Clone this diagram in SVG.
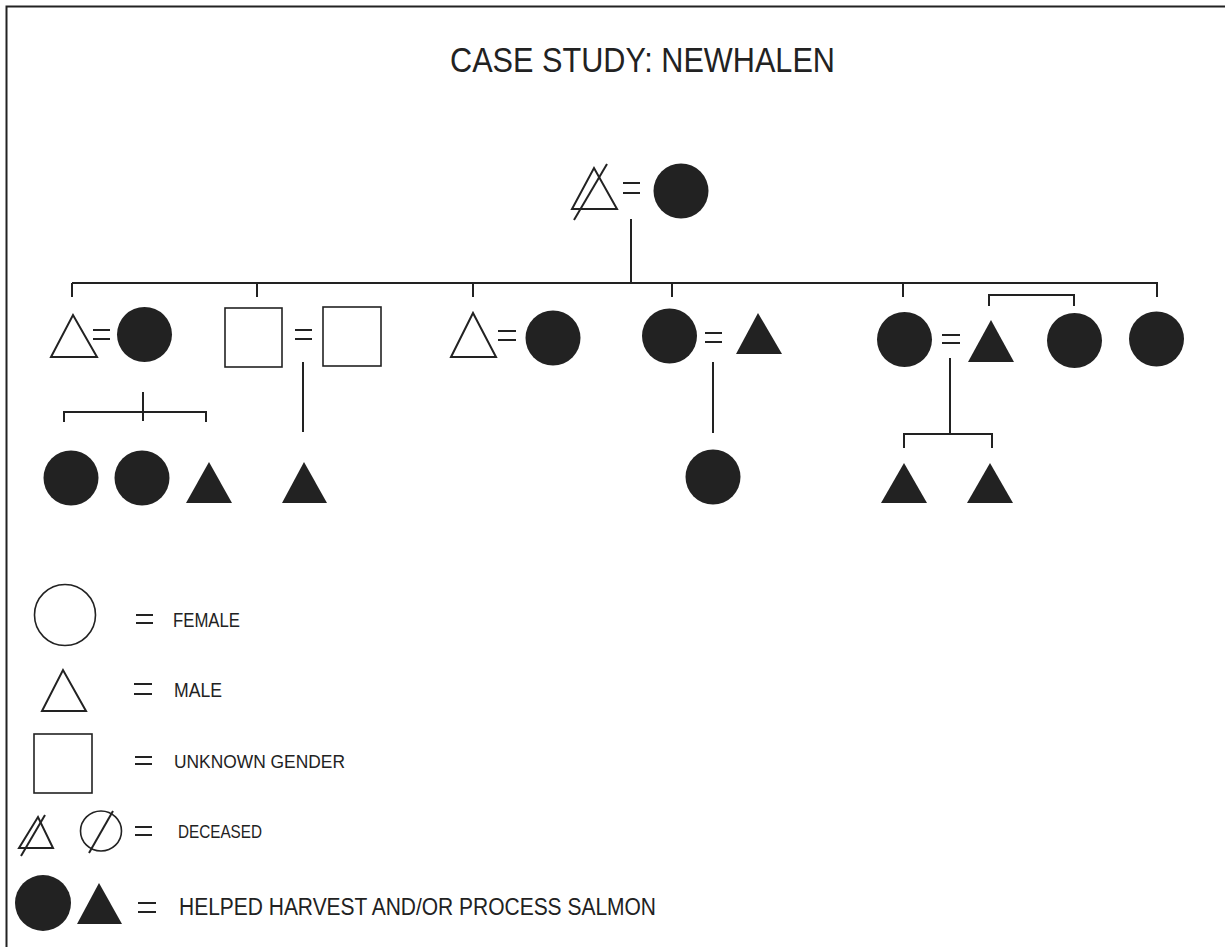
<svg xmlns="http://www.w3.org/2000/svg" width="1225" height="947" viewBox="0 0 1225 947">
<style>
.f{fill:#222;stroke:none}
.o{fill:#fff;stroke:#222;stroke-width:2}
.ol{fill:none;stroke:#222;stroke-width:1.6}
.ln{fill:none;stroke:#222;stroke-width:2}
.eq{stroke:#222;stroke-width:2}
.t{font-family:"Liberation Sans",Arial,sans-serif;fill:#222}
</style>
<rect x="0" y="0" width="1225" height="947" fill="#fff"/>
<rect x="6.5" y="6.5" width="1240" height="960" fill="none" stroke="#222" stroke-width="2"/>
<text class="t" x="450" y="72" font-size="35.5" textLength="385" lengthAdjust="spacingAndGlyphs">CASE STUDY: NEWHALEN</text>

<g id="connectors">
<path class="ln" d="M631 219V283M72 283H1158M72 283V297M257 283V297M473 283V297M672 283V297M903 283V297M1157 283V297"/>
<path class="ln" d="M989 306V295H1074V306"/>
<path class="ln" d="M143 392V421M64 422V412H206V422"/>
<path class="ln" d="M303 362V432"/>
<path class="ln" d="M713 362V433"/>
<path class="ln" d="M950 358V434M904 448V434H992V448"/>
</g>

<g id="gen1-father"><polygon class="o" points="572,209 617,209 594,168"/><line class="ln" x1="574" y1="220" x2="607" y2="164"/></g>
<g id="gen1-eq"><line class="eq" x1="623" y1="183" x2="640" y2="183"/><line class="eq" x1="623" y1="193" x2="640" y2="193"/></g>
<g id="gen1-mother"><circle class="f" cx="681" cy="191" r="27.5"/></g>

<g id="c1-male"><polygon class="o" points="51,357 97,357 73,315"/></g>
<g id="c1-eq"><line class="eq" x1="93" y1="330" x2="110" y2="330"/><line class="eq" x1="93" y1="339" x2="110" y2="339"/></g>
<g id="c1-female"><circle class="f" cx="144.5" cy="334.5" r="27.5"/></g>

<g id="c2-unknown-a"><rect class="ol" x="225" y="308" width="57" height="59"/></g>
<g id="c2-eq"><line class="eq" x1="295" y1="330" x2="312" y2="330"/><line class="eq" x1="295" y1="339" x2="312" y2="339"/></g>
<g id="c2-unknown-b"><rect class="ol" x="323" y="307" width="58" height="59"/></g>

<g id="c3-male"><polygon class="o" points="451,357 496,357 473,313"/></g>
<g id="c3-eq"><line class="eq" x1="498" y1="331" x2="516" y2="331"/><line class="eq" x1="498" y1="340" x2="516" y2="340"/></g>
<g id="c3-female"><circle class="f" cx="553" cy="338" r="27.5"/></g>

<g id="c4-female"><circle class="f" cx="669.5" cy="336" r="27.5"/></g>
<g id="c4-eq"><line class="eq" x1="705" y1="333" x2="722" y2="333"/><line class="eq" x1="705" y1="342" x2="722" y2="342"/></g>
<g id="c4-male"><polygon class="f" points="736,354 782,354 758,313"/></g>

<g id="c5-female"><circle class="f" cx="904.5" cy="339.5" r="27.5"/></g>
<g id="c5-eq"><line class="eq" x1="942" y1="335" x2="960" y2="335"/><line class="eq" x1="942" y1="343" x2="960" y2="343"/></g>
<g id="c5-male"><polygon class="f" points="968,362 1014,362 991,320"/></g>
<g id="sib-female-a"><circle class="f" cx="1074.5" cy="340.5" r="27.5"/></g>
<g id="sib-female-b"><circle class="f" cx="1156.5" cy="339" r="27.5"/></g>

<g id="g3-female-a"><circle class="f" cx="71" cy="478" r="27.5"/></g>
<g id="g3-female-b"><circle class="f" cx="142" cy="478" r="27.5"/></g>
<g id="g3-male-a"><polygon class="f" points="186,503 232,503 209,462"/></g>
<g id="g3-male-b"><polygon class="f" points="282,503 327,503 304,462"/></g>
<g id="g3-female-c"><circle class="f" cx="713" cy="477" r="27.5"/></g>
<g id="g3-male-c"><polygon class="f" points="881,503 927,503 904,463"/></g>
<g id="g3-male-d"><polygon class="f" points="967,503 1013,503 990,463"/></g>

<g id="legend-female">
<circle class="ol" cx="65" cy="615" r="30.5"/>
<line class="eq" x1="136" y1="615" x2="153" y2="615"/><line class="eq" x1="136" y1="623" x2="153" y2="623"/>
<text class="t" x="173" y="627" font-size="19.5" textLength="67" lengthAdjust="spacingAndGlyphs">FEMALE</text>
</g>
<g id="legend-male">
<polygon class="o" points="42,711 86,711 63,670"/>
<line class="eq" x1="134" y1="684" x2="152" y2="684"/><line class="eq" x1="134" y1="694" x2="152" y2="694"/>
<text class="t" x="174" y="697" font-size="19.5" textLength="48" lengthAdjust="spacingAndGlyphs">MALE</text>
</g>
<g id="legend-unknown">
<rect class="ol" x="34" y="734" width="58" height="59"/>
<line class="eq" x1="135" y1="757" x2="152" y2="757"/><line class="eq" x1="135" y1="764" x2="152" y2="764"/>
<text class="t" x="174" y="768" font-size="18" textLength="171" lengthAdjust="spacingAndGlyphs">UNKNOWN GENDER</text>
</g>
<g id="legend-deceased">
<polygon class="o" points="19,848 53,848 38,817"/>
<line class="ln" x1="21" y1="856" x2="45" y2="815"/>
<ellipse class="ol" cx="101" cy="831" rx="20.5" ry="20"/>
<line class="ln" x1="89" y1="853" x2="113" y2="811"/>
<line class="eq" x1="135" y1="827" x2="152" y2="827"/><line class="eq" x1="135" y1="835" x2="152" y2="835"/>
<text class="t" x="178" y="838" font-size="17.5" textLength="84" lengthAdjust="spacingAndGlyphs">DECEASED</text>
</g>
<g id="legend-helped">
<circle class="f" cx="43" cy="903" r="28"/>
<polygon class="f" points="77,924 122,924 99,883"/>
<line class="eq" x1="138" y1="903" x2="156" y2="903"/><line class="eq" x1="138" y1="912" x2="156" y2="912"/>
<text class="t" x="179" y="915" font-size="23.7" textLength="477" lengthAdjust="spacingAndGlyphs">HELPED HARVEST AND/OR PROCESS SALMON</text>
</g>
</svg>
